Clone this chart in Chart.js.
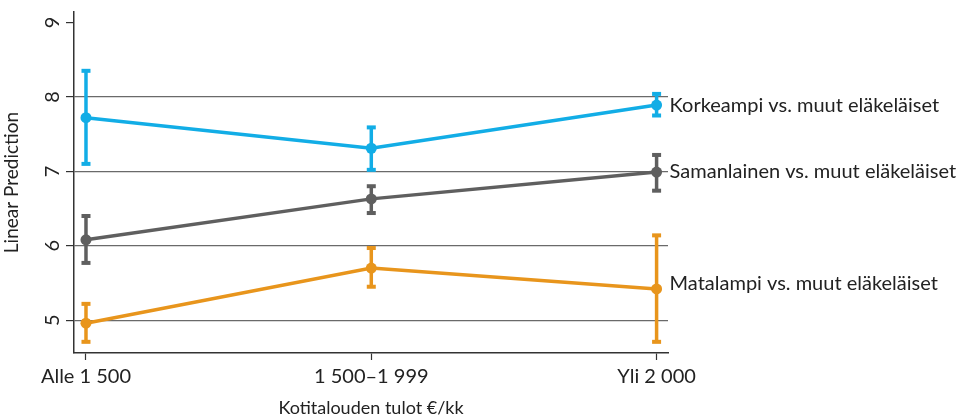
<!DOCTYPE html>
<html>
<head>
<meta charset="utf-8">
<script src="https://cdn.jsdelivr.net/npm/chart.js@4.4.1/dist/chart.umd.min.js"></script>
<style>
  html, body { margin: 0; padding: 0; background: #fff; }
  #wrap { width: 964px; height: 419px; }
</style>
</head>
<body>
<div id="wrap"><canvas id="chart" width="964" height="419"></canvas></div>
<script>
// --- Data ---
const categories = ['Alle 1 500', '1 500–1 999', 'Yli 2 000'];
const seriesNames = ['Korkeampi vs. muut eläkeläiset', 'Samanlainen vs. muut eläkeläiset', 'Matalampi vs. muut eläkeläiset'];
const seriesColors = ['#12ade6', '#5f5f5f', '#e8951c'];

const higherValues = [7.72, 7.31, 7.89];
const higherLow = [7.10, 7.02, 7.75];
const higherHigh = [8.35, 7.59, 8.04];

const similarValues = [6.08, 6.63, 6.99];
const similarLow = [5.77, 6.44, 6.74];
const similarHigh = [6.40, 6.80, 7.22];

const lowerValues = [4.96, 5.70, 5.42];
const lowerLow = [4.71, 5.45, 4.71];
const lowerHigh = [5.22, 5.97, 6.14];

const yTicks = [5, 6, 7, 8, 9];

const FONT = 'Lato, "Open Sans", sans-serif';
const TEXT = '#222';

const series = [
  { values: higherValues, low: higherLow, high: higherHigh },
  { values: similarValues, low: similarLow, high: similarHigh },
  { values: lowerValues, low: lowerLow, high: lowerHigh }
];

// --- Error bars, drawn below the lines ---
const errorBars = {
  id: 'errorBars',
  beforeDatasetsDraw(chart) {
    const { ctx, scales: { x, y } } = chart;
    ctx.save();
    series.forEach((s, i) => {
      ctx.strokeStyle = seriesColors[i];
      ctx.fillStyle = seriesColors[i];
      ctx.lineWidth = 3.5;
      s.values.forEach((v, j) => {
        const px = x.getPixelForValue(j);
        const top = y.getPixelForValue(s.high[j]);
        const bot = y.getPixelForValue(s.low[j]);
        ctx.beginPath();
        ctx.moveTo(px, top);
        ctx.lineTo(px, bot);
        ctx.stroke();
        ctx.fillRect(px - 4.5, top - 2, 9, 4);
        ctx.fillRect(px - 4.5, bot - 2, 9, 4);
      });
    });
    ctx.restore();
  }
};

// --- Series labels at the right end + rotated y tick labels ---
const sideLabels = {
  id: 'sideLabels',
  afterDraw(chart) {
    const { ctx, scales: { x, y } } = chart;
    ctx.save();
    ctx.fillStyle = TEXT;
    ctx.font = '20px ' + FONT;
    ctx.textAlign = 'left';
    ctx.textBaseline = 'middle';
    const offsets = [0, -1, -5];
    series.forEach((s, i) => {
      const last = s.values.length - 1;
      const px = x.getPixelForValue(last) + 13;
      const py = y.getPixelForValue(s.values[last]) + offsets[i];
      ctx.fillText(seriesNames[i], px, py);
    });

    ctx.font = '20px ' + FONT;
    ctx.textAlign = 'center';
    yTicks.forEach(v => {
      const py = y.getPixelForValue(v);
      ctx.save();
      ctx.translate(53, py);
      ctx.rotate(-Math.PI / 2);
      ctx.fillText(String(v), 0, 0);
      ctx.restore();
    });
    ctx.restore();
  }
};

const makeDataset = (i) => ({
  label: seriesNames[i],
  data: series[i].values.map((v, j) => ({ x: j, y: v })),
  borderColor: seriesColors[i],
  backgroundColor: seriesColors[i],
  borderWidth: 3.5,
  pointRadius: 5.5,
  pointHoverRadius: 5.5,
  pointBorderWidth: 0,
  tension: 0
});

new Chart(document.getElementById('chart'), {
  type: 'line',
  data: { datasets: [makeDataset(0), makeDataset(1), makeDataset(2)] },
  options: {
    responsive: false,
    animation: false,
    layout: { padding: { left: 0, top: 12, right: 296, bottom: 0 } },
    plugins: { legend: { display: false }, tooltip: { enabled: false } },
    scales: {
      x: {
        type: 'linear',
        min: -0.042,
        max: 2.04,
        afterBuildTicks: (scale) => { scale.ticks = categories.map((c, i) => ({ value: i })); },
        afterFit: (scale) => { scale.height = 66; },
        ticks: {
          color: TEXT,
          font: { family: FONT, size: 20 },
          padding: 5,
          maxRotation: 0,
          callback: (v) => categories[v]
        },
        grid: { drawOnChartArea: false, drawTicks: true, tickLength: 7, tickColor: '#333', tickWidth: 1.2 },
        border: { display: true, color: '#333', width: 1.5 },
        title: {
          display: true,
          text: 'Kotitalouden tulot €/kk',
          color: TEXT,
          font: { family: FONT, size: 18 },
          padding: { top: 2, bottom: 0 }
        }
      },
      y: {
        min: 4.56,
        max: 9.14,
        afterBuildTicks: (scale) => { scale.ticks = yTicks.map(v => ({ value: v })); },
        afterFit: (scale) => { scale.width = 74; },
        ticks: { display: false },
        grid: {
          drawTicks: true,
          tickLength: 8,
          tickColor: '#333',
          tickWidth: 1.2,
          color: (c) => (c.tick && c.tick.value === 9 ? 'rgba(0,0,0,0)' : '#6a6a6a'),
          lineWidth: 1.2
        },
        border: { display: true, color: '#333', width: 1.5 },
        title: {
          display: true,
          text: 'Linear Prediction',
          color: TEXT,
          font: { family: FONT, size: 19 },
          padding: { top: 0, bottom: 0 }
        }
      }
    }
  },
  plugins: [errorBars, sideLabels]
});
</script>
</body>
</html>
